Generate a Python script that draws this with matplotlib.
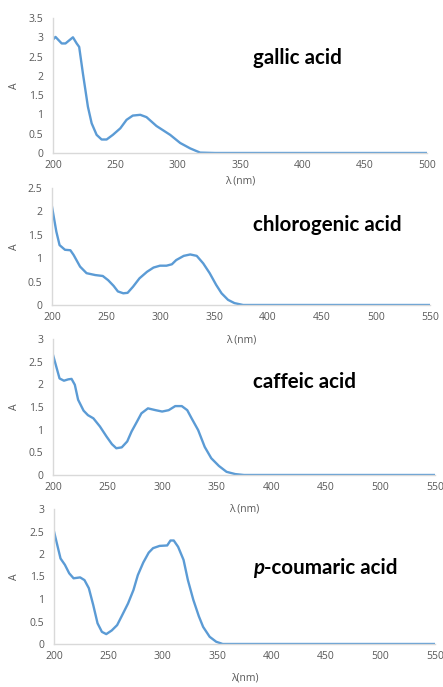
import matplotlib
matplotlib.use("Agg")
import matplotlib.pyplot as plt
from matplotlib.text import Annotation

# wavelength (nm) / absorbance
gallic_wl = [200, 202, 207, 210, 216, 219, 221, 224, 228, 231, 235, 239, 243, 248, 254, 259,
             264, 270, 275, 283, 294, 302, 310, 318, 330, 400, 500]
gallic_a = [2.94, 3.01, 2.84, 2.84, 3.00, 2.84, 2.75, 2.06, 1.20, 0.77, 0.47, 0.35, 0.35, 0.47,
            0.64, 0.86, 0.97, 0.99, 0.93, 0.70, 0.47, 0.26, 0.12, 0.01, 0.0, 0.0, 0.0]

chloro_wl = [200, 204, 207, 212, 217, 220, 226, 232, 240, 247, 252, 257, 261, 266, 270, 275,
             281, 288, 294, 300, 306, 311, 315, 322, 328, 334, 340, 346, 352, 357, 363, 369,
             377, 450, 550]
chloro_a = [2.10, 1.57, 1.28, 1.18, 1.17, 1.07, 0.82, 0.68, 0.64, 0.62, 0.53, 0.41, 0.29, 0.25,
            0.26, 0.39, 0.57, 0.71, 0.80, 0.84, 0.84, 0.87, 0.96, 1.05, 1.08, 1.05, 0.89, 0.68,
            0.43, 0.25, 0.11, 0.04, 0.0, 0.0, 0.0]

caffeic_wl = [200, 203, 206, 210, 214, 217, 220, 223, 228, 232, 237, 243, 249, 254, 258, 263,
              268, 272, 277, 281, 287, 294, 300, 306, 312, 318, 323, 327, 333, 339, 345, 352,
              359, 367, 375, 450, 550]
caffeic_a = [2.65, 2.39, 2.13, 2.08, 2.11, 2.12, 1.99, 1.66, 1.42, 1.32, 1.25, 1.07, 0.85, 0.68,
             0.59, 0.61, 0.74, 0.96, 1.18, 1.36, 1.47, 1.43, 1.40, 1.43, 1.52, 1.52, 1.43, 1.25,
             0.99, 0.62, 0.37, 0.20, 0.07, 0.02, 0.0, 0.0, 0.0]

coumaric_wl = [200, 203, 206, 210, 214, 218, 224, 228, 232, 236, 240, 244, 248, 253, 258, 262,
               268, 273, 277, 282, 287, 291, 297, 304, 307, 310, 314, 319, 323, 328, 333, 337,
               343, 349, 355, 450, 550]
coumaric_a = [2.50, 2.20, 1.90, 1.76, 1.57, 1.46, 1.48, 1.42, 1.24, 0.87, 0.46, 0.27, 0.22, 0.30,
              0.42, 0.61, 0.90, 1.20, 1.53, 1.81, 2.03, 2.13, 2.18, 2.19, 2.30, 2.30, 2.16, 1.87,
              1.42, 0.98, 0.62, 0.38, 0.16, 0.05, 0.0, 0.0, 0.0]

W, H = 443, 687
fig = plt.figure(figsize=(W / 100, H / 100), dpi=100)

line_col = "#5B9BD5"
grey = "#595959"
spine_col = "#D9D9D9"


def rect(l, r, t, b):
    return [l / W, 1 - b / H, (r - l) / W, (b - t) / H]


panels = [
    (rect(53, 427, 18, 153), gallic_wl, gallic_a, 500, 3.5, "λ (nm)", 181),
    (rect(52, 430, 188, 305), chloro_wl, chloro_a, 550, 2.5, "λ (nm)", 340),
    (rect(53, 435, 339, 475), caffeic_wl, caffeic_a, 550, 3.0, "λ (nm)", 509),
    (rect(54, 435, 509, 644), coumaric_wl, coumaric_a, 550, 3.0, "λ(nm)", 678),
]

for pos, wl, a, xmax, ymax, xlab, xlab_y in panels:
    ax = fig.add_axes(pos)
    ax.plot(wl, a, color=line_col, lw=1.7, solid_joinstyle="round")
    ax.set_xlim(200, xmax)
    ax.set_ylim(0, ymax)
    ax.set_xticks(range(200, xmax + 1, 50))
    yt = [i * 0.5 for i in range(int(ymax / 0.5) + 1)]
    ax.set_yticks(yt)
    ax.set_yticklabels([f"{v:g}" for v in yt])
    for s in ["top", "right"]:
        ax.spines[s].set_visible(False)
    for s in ["left", "bottom"]:
        ax.spines[s].set_color(spine_col)
        ax.spines[s].set_linewidth(1.0)
    ax.tick_params(length=0, labelsize=7.5, labelcolor=grey, pad=5)
    ax.tick_params(axis="y", pad=7)
    for lab in ax.get_xticklabels() + ax.get_yticklabels():
        lab.set_family("Open Sans")
    ax.set_ylabel("A", fontsize=7.5, color=grey, family="Open Sans")
    ax.yaxis.set_label_coords(20 / W, pos[1] + pos[3] / 2, transform=fig.transFigure)
    fig.text(pos[0] + pos[2] / 2, 1 - xlab_y / H, xlab, ha="center", va="center",
             fontsize=7.5, color=grey, family="Open Sans")

title_kw = dict(fontsize=14.8, fontweight="bold", color="black", family="Lato")
fig.text(253 / W, 1 - 58 / H, "gallic acid", ha="left", va="center", **title_kw)
fig.text(253 / W, 1 - 225 / H, "chlorogenic acid", ha="left", va="center", **title_kw)
fig.text(253 / W, 1 - 382 / H, "caffeic acid", ha="left", va="center", **title_kw)
p = fig.text(253 / W, 1 - 568 / H, "p", style="italic", ha="left", va="center", **title_kw)
fig.add_artist(Annotation("-coumaric acid", xy=(1, 0), xycoords=p,
                          va="bottom", ha="left", **title_kw))

fig.savefig("out.png", dpi=100)
